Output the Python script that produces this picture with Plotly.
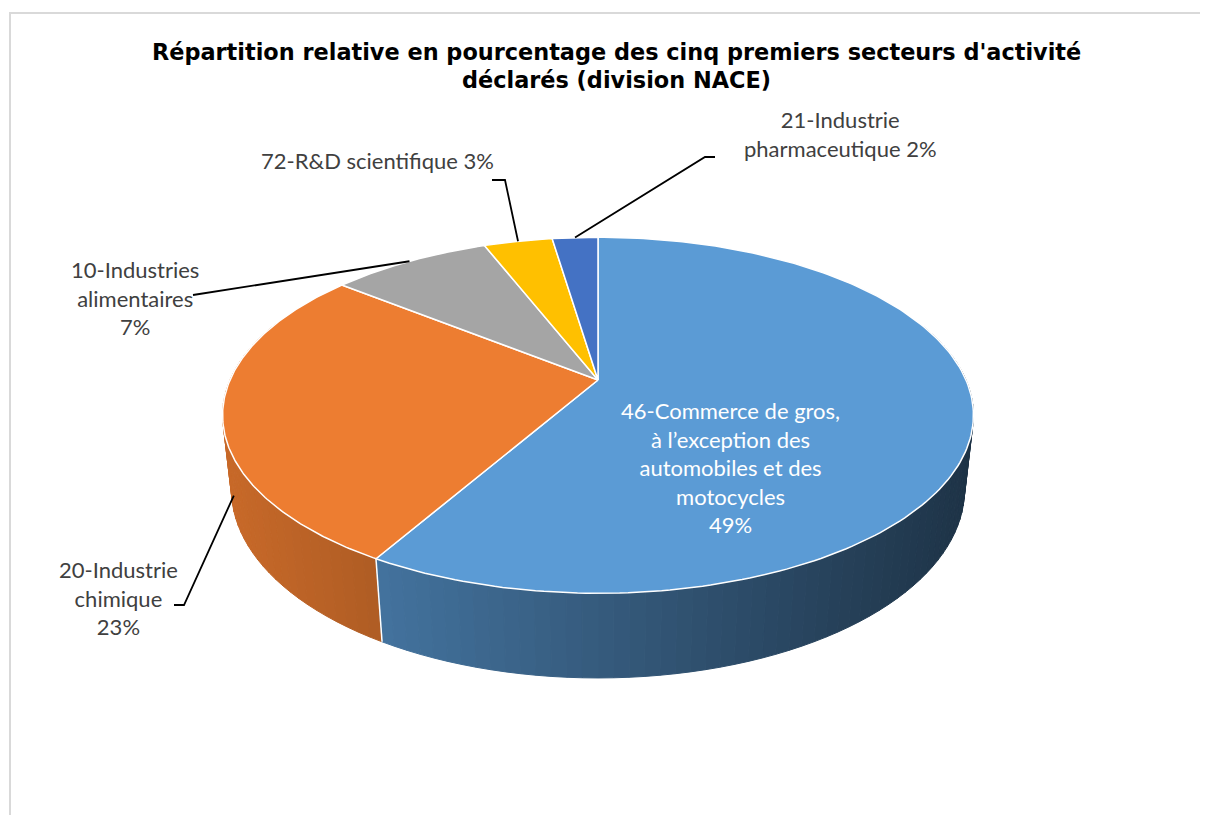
import numpy as np
import plotly.graph_objects as go

# --- data ---
sector_names = [
    "46-Commerce de gros,<br>à l’exception des<br>automobiles et des<br>motocycles",
    "20-Industrie<br>chimique",
    "10-Industries<br>alimentaires",
    "72-R&D scientifique",
    "21-Industrie<br>pharmaceutique",
]
percent_sep = ["<br>", "<br>", "<br>", " ", " "]
percents = [49, 23, 7, 3, 2]
slice_colors = ["#5B9BD5", "#ED7D31", "#A5A5A5", "#FFC000", "#4472C4"]

title_lines = ["Répartition relative en pourcentage des cinq premiers secteurs d'activité",
               "déclarés (division NACE)"]

# --- 3d pie geometry (pixels) ---
CX, CY = 598, 380          # pie centre on screen
F = 1669.0                 # focal scale
FX = F * 0.99              # slightly narrower horizontally
PHI = np.radians(27.4)     # elevation
D = 4.49                   # camera distance
H = 0.227                  # thickness


def project(t, z=0.0):
    X, Y = np.sin(t), np.cos(t)
    yc = Y * np.sin(PHI) + z * np.cos(PHI)
    d = D + Y * np.cos(PHI) - z * np.sin(PHI)
    return CX + FX * X / d, CY - F * yc / d


def shade(hex_color, f):
    r, g, b = (int(hex_color[i:i + 2], 16) for i in (1, 3, 5))
    return "rgb(%d,%d,%d)" % (min(255, r * f), min(255, g * f), min(255, b * f))


total = sum(percents)
edges = np.concatenate([[0], np.cumsum(percents)]) / total * 2 * np.pi

fig = go.Figure()

# side walls, back to front
segments = []
for i, col in enumerate(slice_colors):
    a0, a1 = edges[i], edges[i + 1]
    n = max(2, int(np.degrees(a1 - a0) / 2))
    ts = np.linspace(a0, a1, n + 1)
    for t0, t1 in zip(ts[:-1], ts[1:]):
        tm = (t0 + t1) / 2
        if np.cos(tm) > 0.35:
            continue
        xa, ya = project(t0)
        xb, yb = project(t1)
        xc, yc = project(t1, -H)
        xd, yd = project(t0, -H)
        xm = (xa + xb) / 2
        f = 0.85 - 0.52 * (xm - (CX - 380)) / 760
        segments.append((np.cos(tm), [xa, xb, xc, xd, xa], [ya, yb, yc, yd, ya], shade(col, f)))

segments.sort(key=lambda s: -s[0])
for _, xs, ys, c in segments:
    fig.add_trace(go.Scatter(x=xs, y=ys, mode="lines", fill="toself", fillcolor=c,
                             line=dict(color=c, width=1), hoverinfo="skip", showlegend=False))

# white seams between walls
for a in edges[:-1]:
    if np.cos(a) < 0:
        x0, y0 = project(a)
        x1, y1 = project(a, -H)
        fig.add_trace(go.Scatter(x=[x0, x1], y=[y0, y1], mode="lines",
                                 line=dict(color="white", width=1.5),
                                 hoverinfo="skip", showlegend=False))

# top faces
for i, col in enumerate(slice_colors):
    ts = np.linspace(edges[i], edges[i + 1], 200)
    px, py = project(ts)
    xs = np.concatenate([[CX], px, [CX]])
    ys = np.concatenate([[CY], py, [CY]])
    fig.add_trace(go.Scatter(x=xs, y=ys, mode="lines", fill="toself", fillcolor=col,
                             line=dict(color="white", width=1.5),
                             hoverinfo="skip", showlegend=False))

# labels
mid = (edges[:-1] + edges[1:]) / 2
label_pos = [(730, 467), (118, 598), (135, 298), (377, 160), (840, 134)]
for i, name in enumerate(sector_names):
    fig.add_annotation(x=label_pos[i][0], y=label_pos[i][1],
                       text=name + percent_sep[i] + "%d%%" % percents[i],
                       showarrow=False, align="center",
                       font=dict(family="Lato", size=22,
                                 color="white" if i == 0 else "#404040"))

# leader lines
anchors = {
    1: project(mid[1] - np.radians(10), -H * 0.65),
    2: project(mid[2]),
    3: project(mid[3]),
    4: project(mid[4]),
}
elbows = {1: [(174, 605), (184, 605)], 2: [(193, 295)], 3: [(492, 180), (505, 180)],
          4: [(715, 157), (705, 157)]}
for k, pts in elbows.items():
    xs = [p[0] for p in pts] + [anchors[k][0]]
    ys = [p[1] for p in pts] + [anchors[k][1]]
    fig.add_trace(go.Scatter(x=xs, y=ys, mode="lines", line=dict(color="black", width=1.8),
                             hoverinfo="skip", showlegend=False))

# title, one annotation per line to keep the tight line spacing
for j, line in enumerate(title_lines):
    fig.add_annotation(x=616, y=52 + 28 * j, text="<b>" + line + "</b>", showarrow=False,
                       font=dict(family="DejaVu Sans", size=22.4, color="black"))

fig.add_shape(type="rect", x0=10, y0=13, x1=1230, y1=850,
              line=dict(color="#D9D9D9", width=2), layer="below")

# page has an 8px body margin: offset ranges so data units equal screen pixels
fig.update_layout(
    xaxis=dict(range=[8, 1200], visible=False, fixedrange=True),
    yaxis=dict(range=[815, 8], visible=False, fixedrange=True),
    margin=dict(l=0, r=0, t=0, b=0),
    plot_bgcolor="white",
    paper_bgcolor="white",
)

fig.write_html("out.html")
